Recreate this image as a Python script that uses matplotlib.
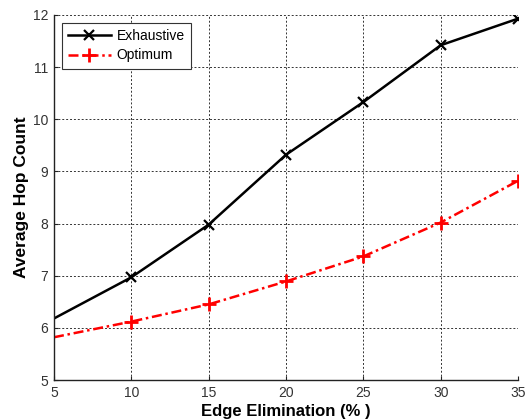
import matplotlib
matplotlib.use("Agg")
import matplotlib.pyplot as plt

plt.rcParams['font.family'] = ['Liberation Sans', 'DejaVu Sans']

edge_elim = [5, 10, 15, 20, 25, 30, 35]
exhaustive = [6.18, 6.97, 7.98, 9.32, 10.33, 11.42, 11.93]
optimum = [5.82, 6.12, 6.45, 6.89, 7.37, 8.02, 8.82]
x_ticks = [5, 10, 15, 20, 25, 30, 35]
y_ticks = [5, 6, 7, 8, 9, 10, 11, 12]

fig = plt.figure(figsize=(5.26, 4.19), dpi=100)
ax = fig.add_axes([54/526, 1 - 380/419, 464/526, 365/419])

ax.plot(edge_elim, exhaustive, color='black', lw=1.8, marker='x', ms=6.5, mew=1.6,
        markevery=slice(1, None), label='Exhaustive')
ax.plot(edge_elim, optimum, color='red', lw=1.8, ls=(0, (4, 1.5, 1, 1.5)), marker='+',
        ms=9.5, mew=2, markevery=slice(1, None), label='Optimum')

ax.set_xlim(5, 35)
ax.set_ylim(5, 12)
ax.set_xticks(x_ticks)
ax.set_yticks(y_ticks)
ax.tick_params(direction='in', labelsize=10, length=3, width=0.8,
               colors='#222222', labelcolor='#333333', pad=4)
ax.grid(True, color='#333333', ls=(0, (2, 2)), lw=0.7)
ax.spines['top'].set_visible(False)
ax.spines['right'].set_visible(False)
for s in ('left', 'bottom'):
    ax.spines[s].set_linewidth(1.0)
    ax.spines[s].set_color('#222222')

ax.set_xlabel('Edge Elimination (% )', fontsize=12, fontweight='bold', labelpad=3)
ax.set_ylabel('Average Hop Count', fontsize=12.5, fontweight='bold', labelpad=3)

leg = ax.legend(loc='upper left', fontsize=10, fancybox=False, framealpha=1,
                edgecolor='#333333', handlelength=3.1, borderaxespad=0.55,
                borderpad=0.45, labelspacing=0.4, handletextpad=0.4)
leg.get_frame().set_linewidth(0.8)

fig.savefig('out.png', dpi=100)
